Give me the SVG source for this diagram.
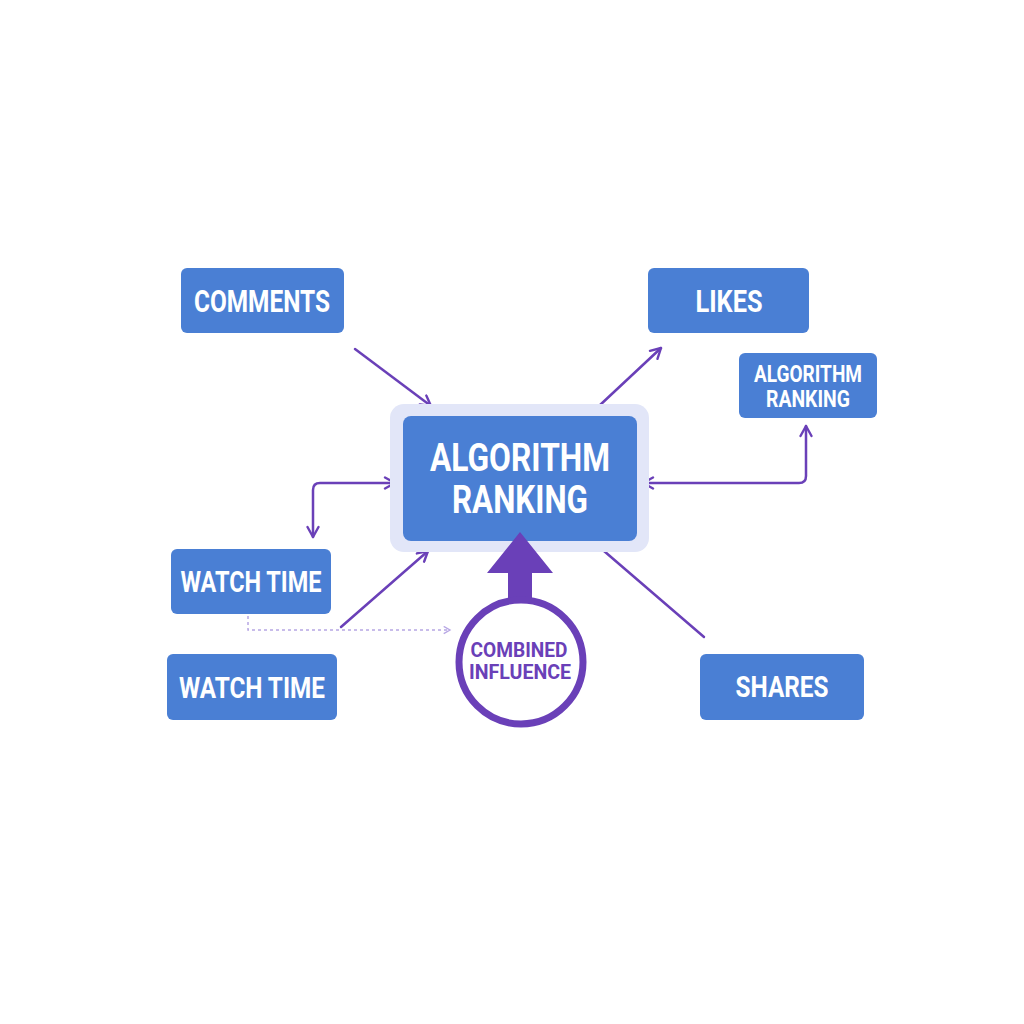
<svg xmlns="http://www.w3.org/2000/svg" width="1024" height="1024" viewBox="0 0 1024 1024">
<style>
.box{fill:#4a7fd4;}
.lbl{font-family:Roboto,"Liberation Sans",sans-serif;font-weight:700;fill:#ffffff;text-anchor:middle;}
.con{fill:none;stroke:#6a40b8;stroke-width:2.5;stroke-linecap:round;stroke-linejoin:round;}
.dash{fill:none;stroke:#b7a6e4;stroke-width:1.5;stroke-dasharray:3 3;}
.pl{font-family:Roboto,"Liberation Sans",sans-serif;font-weight:700;fill:#6a40b8;text-anchor:middle;}
</style>
<defs>
<marker id="ah" viewBox="0 0 14 14" refX="12" refY="7" markerWidth="14" markerHeight="14" markerUnits="userSpaceOnUse" orient="auto-start-reverse">
<path d="M2,1.5 L12,7 L2,12.5" fill="none" stroke="#6a40b8" stroke-width="2.4" stroke-linecap="round" stroke-linejoin="round"/>
</marker>
<marker id="ahl" viewBox="0 0 10 10" refX="8" refY="5" markerWidth="9" markerHeight="9" markerUnits="userSpaceOnUse" orient="auto">
<path d="M1,1 L8,5 L1,9" fill="none" stroke="#b7a6e4" stroke-width="1.5"/>
</marker>
</defs>
<rect width="1024" height="1024" fill="#ffffff"/>
<g id="connectors">
<line class="con" x1="355" y1="349" x2="431" y2="406" marker-end="url(#ah)"/>
<line class="con" x1="599" y1="406" x2="661" y2="348" marker-end="url(#ah)"/>
<path class="con" d="M395,483 L320,483 Q313,483 313,490 L313,537" marker-start="url(#ah)" marker-end="url(#ah)"/>
<path class="con" d="M643,483 L799,483 Q806,483 806,476 L806,426" marker-start="url(#ah)" marker-end="url(#ah)"/>
<line class="con" x1="341" y1="627" x2="428" y2="551" marker-end="url(#ah)"/>
<line class="con" x1="604" y1="551" x2="704" y2="637"/>
<path class="dash" d="M248,616 L248,630 L450,630" marker-end="url(#ahl)"/>
</g>
<g id="comments">
<rect class="box" x="181" y="268" width="163" height="65" rx="6"/>
<text class="lbl" x="262" y="312" font-size="31" textLength="136" lengthAdjust="spacingAndGlyphs">COMMENTS</text>
</g>
<g id="likes">
<rect class="box" x="648" y="268" width="161" height="65" rx="6"/>
<text class="lbl" x="729" y="312" font-size="31" textLength="67" lengthAdjust="spacingAndGlyphs">LIKES</text>
</g>
<g id="algorithm-ranking-small">
<rect class="box" x="739" y="353" width="138" height="65" rx="6"/>
<text class="lbl" x="808" y="382" font-size="23" textLength="108" lengthAdjust="spacingAndGlyphs">ALGORITHM</text>
<text class="lbl" x="808" y="407" font-size="23" textLength="84" lengthAdjust="spacingAndGlyphs">RANKING</text>
</g>
<g id="algorithm-ranking">
<rect x="390" y="404" width="259" height="148" rx="14" fill="#e2e6f8"/>
<rect class="box" x="403" y="416" width="234" height="125" rx="8"/>
<text class="lbl" x="520" y="471" font-size="38" textLength="180" lengthAdjust="spacingAndGlyphs">ALGORITHM</text>
<text class="lbl" x="520" y="513" font-size="38" textLength="136" lengthAdjust="spacingAndGlyphs">RANKING</text>
</g>
<g id="watch-time-1">
<rect class="box" x="171" y="549" width="160" height="65" rx="6"/>
<text class="lbl" x="251" y="592" font-size="30" textLength="141" lengthAdjust="spacingAndGlyphs">WATCH TIME</text>
</g>
<g id="watch-time-2">
<rect class="box" x="167" y="654" width="170" height="66" rx="6"/>
<text class="lbl" x="252" y="698" font-size="30" textLength="146" lengthAdjust="spacingAndGlyphs">WATCH TIME</text>
</g>
<g id="shares">
<rect class="box" x="700" y="654" width="164" height="66" rx="6"/>
<text class="lbl" x="782" y="697" font-size="29" textLength="93" lengthAdjust="spacingAndGlyphs">SHARES</text>
</g>
<g id="combined-influence">
<path d="M520,532 L553,573 L532,573 L532,600 L508,600 L508,573 L487,573 Z" fill="#6a40b8"/>
<circle cx="521" cy="662" r="62" fill="#ffffff" stroke="#6a40b8" stroke-width="7"/>
<text class="pl" x="519" y="657" font-size="21" textLength="97" lengthAdjust="spacingAndGlyphs">COMBINED</text>
<text class="pl" x="520" y="679" font-size="21" textLength="102" lengthAdjust="spacingAndGlyphs">INFLUENCE</text>
</g>
</svg>
